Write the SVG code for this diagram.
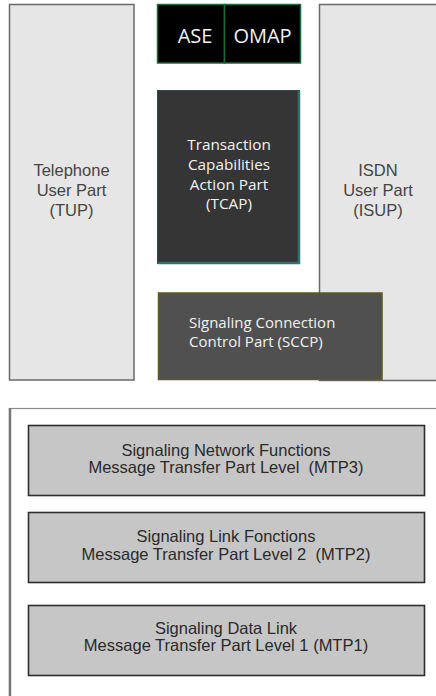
<svg xmlns="http://www.w3.org/2000/svg" width="436" height="696" viewBox="0 0 436 696">
<style>
.user{fill:#e6e6e6;stroke:#6a6a6a;stroke-width:1.5}
.ut{font-family:"Liberation Sans",Arial,sans-serif;font-size:16.5px;fill:#444;text-anchor:middle}
.wt{font-family:"Open Sans",sans-serif;fill:#f2f2f2}
.mtp{fill:#c6c6c6;stroke:#2e2e2e;stroke-width:1.6}
.mt{font-family:"Liberation Sans",Arial,sans-serif;font-size:16.5px;fill:#2a2a2a;text-anchor:middle;white-space:pre}
</style>
<rect width="436" height="696" fill="#ffffff"/>
<g id="tup">
<rect class="user" x="9.5" y="4.5" width="124.5" height="375.5"/>
<text class="ut" x="71.5" y="176">Telephone</text>
<text class="ut" x="71.5" y="196">User Part</text>
<text class="ut" x="71.5" y="216">(TUP)</text>
</g>
<g id="isup">
<rect class="user" x="319.5" y="4.5" width="130" height="376"/>
<text class="ut" x="378" y="176">ISDN</text>
<text class="ut" x="378" y="196">User Part</text>
<text class="ut" x="378" y="216">(ISUP)</text>
</g>
<g id="ase">
<rect x="157.5" y="4.5" width="67" height="58.5" fill="#000" stroke="#1e6a3a" stroke-width="1.5"/>
<text class="wt" x="195" y="43" font-size="20" text-anchor="middle">ASE</text>
</g>
<g id="omap">
<rect x="224.5" y="4.5" width="76" height="58.5" fill="#000" stroke="#1e6a3a" stroke-width="1.5"/>
<text class="wt" x="262.5" y="43" font-size="20" text-anchor="middle">OMAP</text>
</g>
<g id="tcap">
<rect x="157.5" y="90.5" width="142" height="173" fill="#353535" stroke="#2f4a4a" stroke-width="1"/>
<path d="M299 91 V264 M158 263 H300" stroke="#2a7572" stroke-width="2.5" fill="none"/>
<text class="wt" x="229" y="150" font-size="15.3" text-anchor="middle">Transaction</text>
<text class="wt" x="229" y="170" font-size="15.3" text-anchor="middle">Capabilities</text>
<text class="wt" x="229" y="189.5" font-size="15.3" text-anchor="middle">Action Part</text>
<text class="wt" x="229" y="209" font-size="15.3" text-anchor="middle">(TCAP)</text>
</g>
<g id="sccp">
<rect x="158.5" y="293" width="223.5" height="86.5" fill="#505050" stroke="#5c5a1c" stroke-width="1.5"/>
<text class="wt" x="189" y="327.5" font-size="15">Signaling Connection</text>
<text class="wt" x="189" y="347" font-size="15">Control Part (SCCP)</text>
</g>
<g id="mtp">
<rect x="9.5" y="408.5" width="440" height="300" fill="#fff" stroke="#8a8a8a" stroke-width="1.2"/>
<line x1="10" y1="408" x2="10" y2="696" stroke="#777" stroke-width="2.5"/>
</g>
<g id="mtp3">
<rect class="mtp" x="28.5" y="425.5" width="396" height="70"/>
<text class="mt" x="226" y="456">Signaling Network Functions</text>
<text class="mt" x="226" y="473" xml:space="preserve">Message Transfer Part Level  (MTP3)</text>
</g>
<g id="mtp2">
<rect class="mtp" x="28.5" y="512.5" width="396" height="70"/>
<text class="mt" x="226" y="542">Signaling Link Fonctions</text>
<text class="mt" x="226" y="560" xml:space="preserve">Message Transfer Part Level 2  (MTP2)</text>
</g>
<g id="mtp1">
<rect class="mtp" x="28.5" y="605.5" width="396" height="70"/>
<text class="mt" x="226" y="634">Signaling Data Link</text>
<text class="mt" x="226" y="651">Message Transfer Part Level 1 (MTP1)</text>
</g>
<g id="connectors"></g>
</svg>
